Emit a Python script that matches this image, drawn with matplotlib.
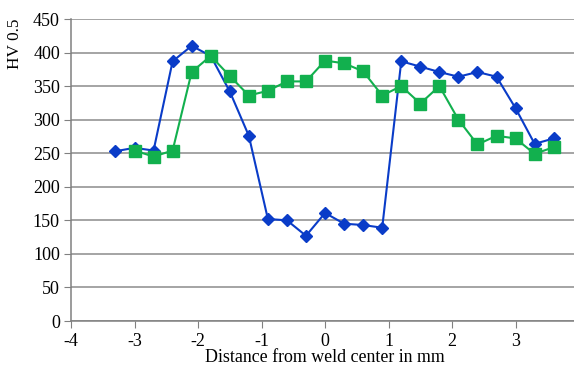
import matplotlib
matplotlib.use("Agg")
import matplotlib.pyplot as plt

blue_x = [-3.3, -3.0, -2.7, -2.4, -2.1, -1.8, -1.5, -1.2, -0.9, -0.6, -0.3, 0.0,
          0.3, 0.6, 0.9, 1.2, 1.5, 1.8, 2.1, 2.4, 2.7, 3.0, 3.3, 3.6]
blue_y = [253, 258, 254, 387, 410, 395, 342, 276, 152, 150, 127, 161,
          145, 143, 139, 387, 379, 371, 364, 371, 364, 317, 264, 272]

green_x = [-3.0, -2.7, -2.4, -2.1, -1.8, -1.5, -1.2, -0.9, -0.6, -0.3, 0.0,
           0.3, 0.6, 0.9, 1.2, 1.5, 1.8, 2.1, 2.4, 2.7, 3.0, 3.3, 3.6]
green_y = [254, 245, 254, 371, 395, 365, 336, 343, 357, 357, 388,
           384, 372, 336, 350, 324, 350, 300, 263, 276, 272, 249, 259]

x_ticks = [-4, -3, -2, -1, 0, 1, 2, 3]
y_ticks = [0, 50, 100, 150, 200, 250, 300, 350, 400, 450]

plt.rcParams['font.family'] = ['Liberation Serif', 'DejaVu Serif']

fig = plt.figure(figsize=(5.74, 3.65), dpi=100)
ax = fig.add_axes([71/574, 1 - 321/365, 1 - 71/574, (321 - 19)/365])

ax.plot(blue_x, blue_y, color='#0a3cc8', lw=1.5, marker='D', markersize=6.5,
        markerfacecolor='#0a3cc8', markeredgecolor='#0a3cc8', zorder=3)
ax.plot(green_x, green_y, color='#12b04e', lw=1.5, marker='s', markersize=8,
        markerfacecolor='#12b04e', markeredgecolor='#12b04e', zorder=4)

ax.set_xlim(-4, 3.92)
ax.set_ylim(0, 450)
ax.set_xticks(x_ticks)
ax.set_xticklabels([str(v) for v in x_ticks])
ax.set_yticks(y_ticks)
ax.yaxis.grid(True, color='#8c8c8c', lw=1.1)
ax.set_axisbelow(True)
for s in ['top', 'right']:
    ax.spines[s].set_visible(False)
for s in ['left', 'bottom']:
    ax.spines[s].set_color('#808080')
    ax.spines[s].set_linewidth(1.1)
ax.tick_params(axis='both', labelsize=13, color='#808080', length=5, direction='out')
ax.tick_params(axis='x', pad=4)
ax.tick_params(axis='y', pad=3)

fig.text(325/574, 1 - 358/365, 'Distance from weld center in mm', ha='center', va='center', fontsize=12.9)
fig.text(15/574, 1 - 44/365, 'HV 0.5', ha='center', va='center', rotation=90, fontsize=12.4)

fig.savefig('out.png', dpi=100)
